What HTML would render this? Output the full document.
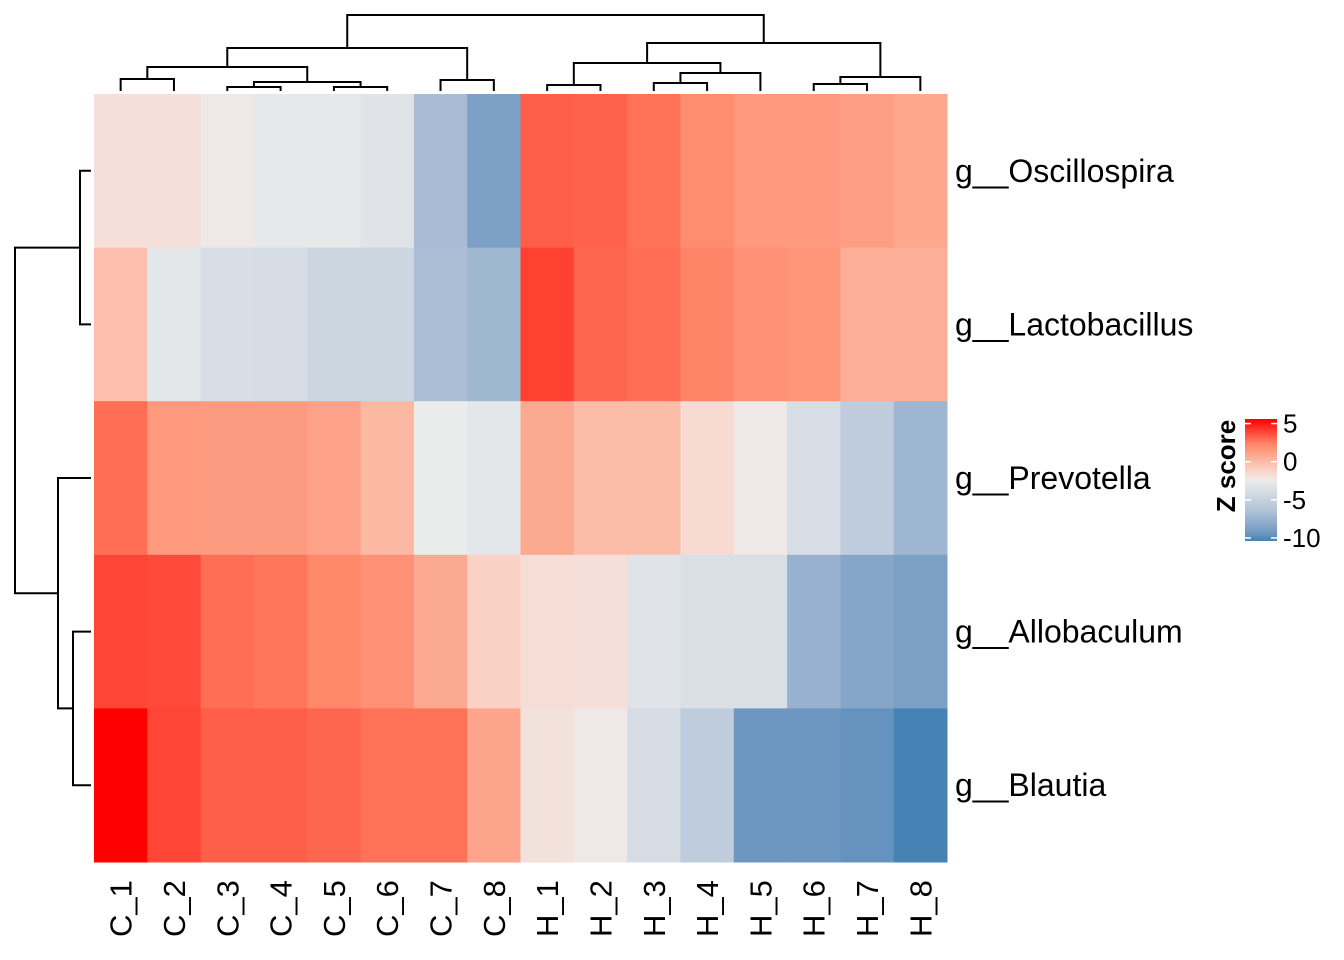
<!DOCTYPE html>
<html><head><meta charset="utf-8"><style>
html,body{margin:0;padding:0;background:#fff;}
svg{display:block;font-family:"Liberation Sans",sans-serif;}
</style></head><body>
<svg id="chart" width="1344" height="960" xmlns="http://www.w3.org/2000/svg">
<defs><linearGradient id="lg" x1="0" y1="1" x2="0" y2="0"></linearGradient></defs>
<g id="cells"></g>
<g id="coldend"></g>
<g id="rowdend"></g>
<g id="rowlabels"></g>
<g id="collabels"></g>
<g id="legend"></g>
</svg>
<script>
const columns = ["C_1","C_2","C_3","C_4","C_5","C_6","C_7","C_8","H_1","H_2","H_3","H_4","H_5","H_6","H_7","H_8"];
const rows = ["g__Oscillospira","g__Lactobacillus","g__Prevotella","g__Allobaculum","g__Blautia"];
const oscillospira = [-1.8,-1.8,-2.3,-2.9,-2.9,-3.3,-6.8,-8.8,3.3,3.2,2.8,2.0,1.5,1.5,1.3,0.9];
const lactobacillus = [-0.1,-3.0,-3.8,-3.9,-4.6,-4.6,-6.7,-7.2,4.0,3.1,2.9,2.3,1.8,1.7,0.6,0.6];
const prevotella = [2.9,1.5,1.4,1.4,1.1,0.2,-2.6,-3.0,0.8,0.0,0.0,-1.6,-2.3,-3.8,-5.5,-7.3];
const allobaculum = [3.9,3.8,2.9,2.7,2.2,1.8,0.8,-1.1,-1.7,-1.8,-3.3,-3.7,-3.7,-7.6,-8.4,-8.9];
const blautia = [5.6,3.9,3.3,3.3,3.1,2.8,2.8,1.0,-1.9,-2.3,-4.0,-5.5,-9.4,-9.4,-9.6,-10.4];
const legendTicks = [5,0,-5,-10];
// column merges: [nodeA, nodeB, merge y]; leaves 0..15, merge i creates node 16+i
const colMerges = [[0,1,79],[2,3,87],[4,5,87],[17,18,82],[16,19,67],[6,7,80],[20,21,48],
  [8,9,85],[10,11,83],[24,12,73],[23,25,63],[13,14,84],[27,15,77],[26,28,43],[22,29,15]];
// row merges: leaves 0..4, merge i creates node 5+i
const rowMerges = [[0,1,80],[3,4,73],[2,6,58],[5,7,15]];
</script>
<script>
const values=[oscillospira,lactobacillus,prevotella,allobaculum,blautia];
const X0=94,X1=947,Y0=94,Y1=862;
const cw=(X1-X0)/columns.length, rh=(Y1-Y0)/rows.length;
const vmin=-10.4,vmid=-2.5,vmax=5.6;
const redStops=[[0,[236,236,236]],[0.12,[248,218,208]],[0.3,[251,190,170]],[0.6,[255,132,102]],[1,[255,0,0]]];
const blueStops=[[0,[236,236,236]],[0.5,[176,194,216]],[0.85,[116,154,195]],[1,[70,130,180]]];
function interp(stops,t){t=Math.max(0,Math.min(1,t));
  for(let i=1;i<stops.length;i++){if(t<=stops[i][0]){const a=stops[i-1],b=stops[i];const u=(t-a[0])/(b[0]-a[0]);
    return a[1].map((v,k)=>Math.round(v+(b[1][k]-v)*u));}}
  return stops[stops.length-1][1];}
function color(v){
  const c = v<=vmid ? interp(blueStops,(vmid-v)/(vmid-vmin)) : interp(redStops,(v-vmid)/(vmax-vmid));
  return `rgb(${c[0]},${c[1]},${c[2]})`;}
const NS="http://www.w3.org/2000/svg";
function mk(tag,attrs,parent){const e=document.createElementNS(NS,tag);for(const k in attrs)e.setAttribute(k,attrs[k]);parent.appendChild(e);return e;}
const cells=document.getElementById('cells');
values.forEach((row,r)=>row.forEach((v,c)=>{
  const e=mk('rect',{x:X0+c*cw,y:Y0+r*rh,width:cw+0.5,height:rh+0.5,fill:color(v)},cells);
  
  
}));
const nodes={};for(let i=0;i<16;i++)nodes[i]={x:X0+(i+0.5)*cw,y:Y0-3};
const cd=document.getElementById('coldend');
colMerges.forEach((m,i)=>{const a=nodes[m[0]],b=nodes[m[1]],h=m[2];
  const p=mk('path',{d:`M${a.x},${a.y}V${h}H${b.x}V${b.y}`,fill:'none',stroke:'#000','stroke-width':2},cd);
  
  
  nodes[16+i]={x:(a.x+b.x)/2,y:h};});
const rn={};for(let i=0;i<5;i++)rn[i]={y:Y0+(i+0.5)*rh,x:X0-3};
const rd=document.getElementById('rowdend');
rowMerges.forEach((m,i)=>{const a=rn[m[0]],b=rn[m[1]],h=m[2];
  const p=mk('path',{d:`M${a.x},${a.y}H${h}V${b.y}H${b.x}`,fill:'none',stroke:'#000','stroke-width':2},rd);
  
  
  rn[5+i]={y:(a.y+b.y)/2,x:h};});
const rl=document.getElementById('rowlabels');
rows.forEach((n,i)=>{const t=mk('text',{x:955,y:Y0+(i+0.5)*rh+11,'font-size':32,fill:'#000'},rl);t.textContent=n;
  
  });
const cl=document.getElementById('collabels');
columns.forEach((n,i)=>{const x=X0+(i+0.5)*cw+11,y=937;
  const t=mk('text',{x:x,y:y,'font-size':31,fill:'#000',transform:`rotate(-90 ${x} ${y})`},cl);t.textContent=n;
  
  });
const lg=document.getElementById('legend');const grad=document.getElementById('lg');
for(let k=0;k<=40;k++){const v=vmin+(vmax-vmin)*k/40;mk('stop',{offset:(k/40),'stop-color':color(v)},grad);}
const LY0=419,LY1=541,LX=1245,LW=32;
const lb=mk('rect',{x:LX,y:LY0,width:LW,height:LY1-LY0,fill:'url(#lg)'},lg);


function ly(v){return LY1-(v-vmin)/(vmax-vmin)*(LY1-LY0);}
legendTicks.forEach(v=>{const y=ly(v);
  mk('line',{x1:LX,x2:LX+6,y1:y,y2:y,stroke:'#fff','stroke-width':1.5},lg);
  mk('line',{x1:LX+LW-6,x2:LX+LW,y1:y,y2:y,stroke:'#fff','stroke-width':1.5},lg);
  const t=mk('text',{x:1283,y:y+9,'font-size':26,fill:'#000'},lg);t.textContent=v;
  
  });
const tt=mk('text',{x:1235,y:466,'font-size':26,'font-weight':'bold','text-anchor':'middle',fill:'#000',transform:'rotate(-90 1235 466)'},lg);
tt.textContent='Z score';


</script>
</body></html>
